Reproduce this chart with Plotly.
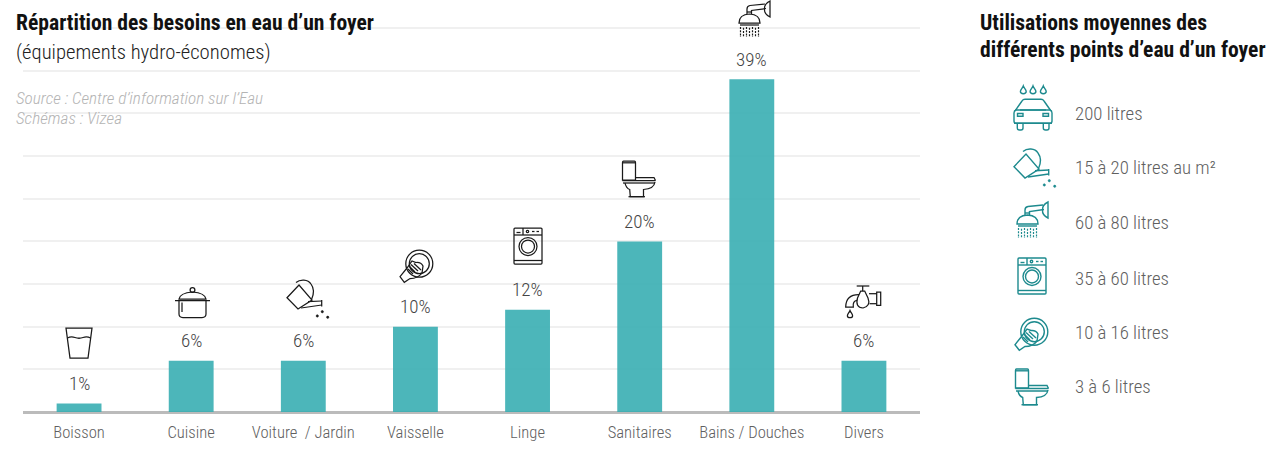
import re
import plotly.graph_objects as go

categories = ["Boisson", "Cuisine", "Voiture  / Jardin", "Vaisselle", "Linge", "Sanitaires", "Bains / Douches", "Divers"]
shares = [1, 6, 6, 10, 12, 20, 39, 6]
share_labels = ["1%", "6%", "6%", "10%", "12%", "20%", "39%", "6%"]
usage_labels = ["200 litres", "15 à 20 litres au m²", "60 à 80 litres", "35 à 60 litres", "10 à 16 litres", "3 à 6 litres"]

W, H = 1285, 457
L, R, T, B = 23, 920, 12, 412
FONT = "Roboto Condensed, Archivo Narrow, Liberation Sans, sans-serif"
BLACK, TEAL = "#1a1a1a", "#1d8a8e"


def px(x):
    return (x - L) / (R - L)


def py(y):
    return (B - y) / (B - T)


def circle(cx, cy, r):
    k = 0.5523 * r
    return (f"M{cx-r},{cy} C{cx-r},{cy-k} {cx-k},{cy-r} {cx},{cy-r} C{cx+k},{cy-r} {cx+r},{cy-k} {cx+r},{cy} "
            f"C{cx+r},{cy+k} {cx+k},{cy+r} {cx},{cy+r} C{cx-k},{cy+r} {cx-r},{cy+k} {cx-r},{cy} Z")


def drop(cx, cy, h=8.0, w=3.0):
    return (f"M{cx},{cy} C{cx+0.8},{cy+h*0.3} {cx+w},{cy+h*0.45} {cx+w},{cy+h*0.7} "
            f"C{cx+w},{cy+h*1.05} {cx-w},{cy+h*1.05} {cx-w},{cy+h*0.7} "
            f"C{cx-w},{cy+h*0.45} {cx-0.8},{cy+h*0.3} {cx},{cy} Z")


ICONS = {
    "glass": dict(stroke=["M0,0 L26,0 L22,30 L4,30 Z", "M1.5,10 Q5,8 9,9.5 Q13,11 17,9.5 Q21,8 24.5,10"]),
    "pot": dict(stroke=["M4,12 Q5,6 17.5,5 Q30,6 31,12 Z", circle(17.5, 3, 2.4), "M0,13.5 L35,13.5",
                        "M4,13.5 L4,27 Q4,30.5 8,30.5 L27,30.5 Q31,30.5 31,27 L31,13.5", "M7,15.5 L7,25"]),
    "can": dict(stroke=["M0,17.7 L12,5 L25,20 L11,29 Z", "M9,2.5 C13,-1 21,-1 24,4 C27,8 27,14 24.5,19.5",
                        "M21,21.7 L34.7,21", "M14,28 L34.7,25", "M34.7,20 L34.7,26.5"],
                fill=[circle(35.3, 31.7, 1.2), circle(30.3, 36, 1.2), circle(40.7, 37.3, 1.2)]),
    "dish": dict(stroke=[circle(19.3, 13.7, 13.5), circle(19.3, 13.7, 10),
                         "M0,26.7 L4.3,32.3 L10,28.5 Q18,28.5 22,23 L23,16 Q21,12 16,12.5 L12,11 L7,18 Z",
                         "M9,16 L15,22", "M11,14.5 L18,21", "M14,13.5 L21,20", "M8,19 L13,24"]),
    "washer": dict(stroke=["M1,0 L27,0 Q28,0 28,1 L28,35 Q28,36 27,36 L1,36 Q0,36 0,35 L0,1 Q0,0 1,0 Z",
                           "M0,7 L28,7", "M9,0 L9,7", "M2.5,4.5 L6.5,4.5", circle(13.5, 3.5, 1.2),
                           "M18,3.5 L20.5,3.5", "M22.5,3.5 L25,3.5", circle(14, 18.5, 9), circle(14, 18.5, 6.5),
                           "M0,32.5 L28,32.5"]),
    "toilet": dict(stroke=["M1.5,0 L12.5,0 Q13.5,0 13.5,1.5 L13.5,19 L0.5,19 L0.5,1.5 Q0.5,0 1.5,0 Z",
                           "M0.5,1.8 L13.5,1.8", "M13.5,16.5 L32,16.5 L33.5,19.5", "M0.5,19.5 L33.5,19.5",
                           "M1,22 L33,22", "M3,22 Q4,27 7.7,28.5 L8.3,35.7 L21.5,35.7 L21.5,28.5 Q32,28 33,21",
                           "M6.5,35.7 L23,35.7"]),
    "shower": dict(stroke=["M0,22 L21,22 Q21,13.5 10.5,13 Q0,13.5 0,22 Z", "M8,13 L8,8 Q8,5 11,4.5 L26,3",
                           "M12.5,13 L12.5,9.5 L27,7.5", "M8,11 L13,11",
                           "M31,0 L31,16 Q25,13 25.5,8 Q25,3 31,0 Z", "M1,24 L20,24"],
                   dash=["M1.5,26 L1.5,36", "M4.5,26.8 L4.5,36", "M7.5,26 L7.5,36", "M10.5,26.8 L10.5,36",
                         "M13.5,26 L13.5,36", "M16.5,26.8 L16.5,36", "M19.5,26 L19.5,36"]),
    "tap": dict(stroke=["M11.7,0 L24.3,0", "M17.7,0 L17.7,5",
                        "M15.7,5 L19.7,5 L23,12 Q26,20 18,22 Q10,21.5 12.5,12 Z",
                        "M24,7.7 L31.7,7.7", "M24.5,17.7 L31.7,17.7",
                        "M31.7,6 L35.7,6 L35.7,19.3 L31.7,19.3 Z",
                        "M14,8.7 Q1,8.5 0.7,21 L8.3,21 Q7.5,15 12,14.3",
                        drop(5, 24.5, 7.5, 2.6)]),
    "car": dict(stroke=[drop(9.3, 0, 8, 2.9), drop(19, 0, 8, 2.9), drop(29.3, 0, 8, 2.9),
                        "M1,25 L8,15 Q9,13.3 11,13.3 L27,13.3 Q29,13.3 30,15 L37,25",
                        "M6,24 L32,24",
                        "M2,24 L36,24 Q38,24.5 38,27 L38,35 Q38,37.3 36,37.3 L2,37.3 Q0,37.3 0,35 L0,27 Q0,24.5 2,24 Z",
                        "M0,37.3 L38,37.3",
                        "M3.5,27.5 L9,27.5 L9,30.3 L3.5,30.3 Z", "M29,27.5 L34.5,27.5 L34.5,30.3 L29,30.3 Z",
                        "M3.3,37.3 L3.3,42 Q3.3,44 5.5,44 L7,44 Q9,44 9,42 L9,37.3",
                        "M29.3,37.3 L29.3,42 Q29.3,44 31.5,44 L33,44 Q35,44 35,42 L35,37.3"]),
}


def transform(path, ox, oy):
    tokens = re.findall(r"[MLCQZ]|-?\d+\.?\d*,-?\d+\.?\d*", path)
    out = []
    for t in tokens:
        if "," in t:
            x, y = map(float, t.split(","))
            out.append(f"{px(ox + x):.5f},{py(oy + y):.5f}")
        else:
            out.append(t)
    return " ".join(out)


def place(name, ox, oy, color, width):
    items = []
    icon = ICONS[name]
    base = dict(type="path", xref="paper", yref="paper", layer="above")
    for p in icon.get("stroke", []):
        items.append(dict(base, path=transform(p, ox, oy), line=dict(color=color, width=width)))
    for p in icon.get("dash", []):
        items.append(dict(base, path=transform(p, ox, oy), line=dict(color=color, width=1.2, dash="2px,1.2px")))
    for p in icon.get("fill", []):
        items.append(dict(base, path=transform(p, ox, oy), line=dict(color=color, width=0.5), fillcolor=color))
    return items


shapes = []
for name, ox, oy in [("glass", 66, 328), ("pot", 175, 287), ("can", 287, 280), ("dish", 400, 250),
                     ("washer", 514, 228), ("toilet", 622, 161), ("shower", 739, 1), ("tap", 845, 286)]:
    shapes += place(name, ox, oy, BLACK, 1.25)
for name, ox, oy in [("car", 1014, 86), ("can", 1014, 149), ("shower", 1017, 202), ("washer", 1018, 258),
                     ("dish", 1015, 318), ("toilet", 1015, 369)]:
    shapes += place(name, ox, oy, TEAL, 1.4)

fig = go.Figure(go.Bar(x=categories, y=shares, width=0.4, marker=dict(color="#39aeb2", opacity=0.9, line_width=0), hoverinfo="skip"))

annotations = []
for c, v, t in zip(categories, shares, share_labels):
    annotations.append(dict(x=c, y=v, xref="x", yref="y", text=t, showarrow=False, yanchor="middle", yshift=20,
                            font=dict(family=FONT, size=19, weight=300, color="#444444")))


def label(text, x, y, size, color, weight=300, italic=False):
    annotations.append(dict(x=px(x), y=py(y), xref="paper", yref="paper", text=text, showarrow=False, xanchor="left",
                            yanchor="middle", align="left", xshift=-2,
                            font=dict(family=FONT, size=size, color=color, weight=weight,
                                      style="italic" if italic else "normal")))


label("Répartition des besoins en eau d’un foyer", 16, 22, 21.6, "#111111", weight=700)
label("(équipements hydro-économes)", 16, 52, 20.7, "#222222")
label("Source : Centre d’information sur l’Eau", 16, 98, 17.2, "#b4b4b4", italic=True)
label("Schémas : Vizea", 16, 118, 17.2, "#b4b4b4", italic=True)
label("Utilisations moyennes des", 980, 22, 21.6, "#111111", weight=700)
label("différents points d’eau d’un foyer", 980, 49, 21.6, "#111111", weight=700)
for t, y in zip(usage_labels, [114, 168, 223, 279, 333, 387]):
    label(t, 1075, y, 18.8, "#606060")

fig.update_layout(
    width=W, height=H, margin=dict(l=L, r=W - R, t=T, b=H - B, autoexpand=False),
    paper_bgcolor="white", plot_bgcolor="white", showlegend=False, bargap=0.6,
    shapes=shapes, annotations=annotations,
    xaxis=dict(type="category", showgrid=False, showline=False, zeroline=False, ticks="", ticklabelstandoff=8,
               tickfont=dict(family=FONT, size=16.6, weight=300, color="#606060")),
    yaxis=dict(range=[0, 400 / 8.53], tickmode="array", tickvals=[0, 5, 10, 15, 20, 25, 30, 35, 40, 45],
               showticklabels=False, showgrid=True, gridcolor="#f0f0f0", gridwidth=2,
               zeroline=True, zerolinecolor="#bbbbbb", zerolinewidth=3, showline=False, ticks=""),
)
fig.write_html("out.html", config=dict(displayModeBar=False), post_script="document.body.style.margin='0';")
